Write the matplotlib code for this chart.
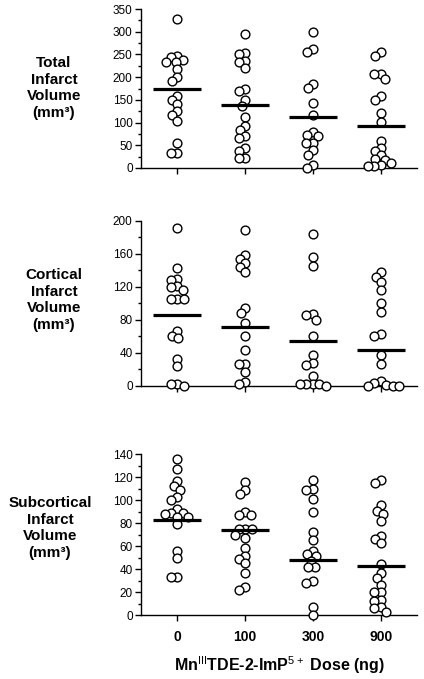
import matplotlib
matplotlib.use("Agg")
import matplotlib.pyplot as plt
import numpy as np

plt.rcParams['font.family'] = ['Liberation Sans', 'DejaVu Sans']
plt.rcParams['mathtext.fontset'] = 'custom'
plt.rcParams['mathtext.rm'] = 'Liberation Sans'
plt.rcParams['mathtext.bf'] = 'Liberation Sans:bold'

doses = ['0', '100', '300', '900']

total = [
    [328, 247, 244, 238, 234, 233, 219, 200, 191, 158, 150, 141, 125, 116, 103, 54, 32, 32],
    [294, 253, 251, 235, 233, 220, 174, 169, 150, 137, 112, 92, 84, 71, 66, 44, 37, 23, 22],
    [299, 263, 255, 186, 176, 143, 116, 79, 73, 71, 56, 54, 40, 29, 6, 0],
    [255, 247, 208, 206, 196, 158, 149, 121, 101, 60, 44, 37, 29, 20, 18, 11, 7, 5, 4],
]
cortical = [
    [191, 143, 129, 128, 121, 120, 116, 105, 105, 105, 66, 61, 58, 33, 24, 2, 2, 0],
    [189, 159, 154, 149, 144, 138, 94, 88, 76, 61, 43, 27, 27, 17, 5, 3],
    [184, 156, 145, 87, 86, 80, 61, 37, 28, 26, 12, 3, 2, 2, 2, 0],
    [138, 132, 126, 116, 101, 89, 63, 60, 37, 27, 6, 4, 1, 0, 0, 0],
]
subcortical = [
    [136, 127, 117, 112, 109, 103, 100, 92, 89, 89, 88, 85, 85, 79, 56, 50, 33, 33],
    [116, 109, 105, 90, 87, 87, 75, 75, 75, 70, 67, 58, 51, 49, 45, 37, 24, 22],
    [118, 110, 109, 101, 90, 72, 65, 56, 53, 51, 47, 42, 42, 30, 28, 7, 0],
    [118, 115, 96, 91, 88, 82, 69, 66, 63, 44, 37, 32, 26, 20, 20, 13, 12, 7, 6, 3],
]
# group means as drawn
total_mean = [174, 139, 112, 92]
cortical_mean = [86, 71, 54, 43.5]
subcortical_mean = [83, 74, 48, 43]

labels = ['Total\nInfarct\nVolume\n(mm\u00b3)',
          'Cortical\nInfarct\nVolume\n(mm\u00b3)',
          'Subcortical\nInfarct\nVolume\n(mm\u00b3)']

W, H = 424, 679
fig = plt.figure(figsize=(W / 100, H / 100), dpi=100)

# (bottom px, top px, ymax, major step, minor step, data, means, label, label x, label y)
panels = [
    (168, 9, 350, 50, 25, total, total_mean, labels[0], 54, 88),
    (386, 220.7, 200, 40, 20, cortical, cortical_mean, labels[1], 54, 300),
    (615, 454.3, 140, 20, 10, subcortical, subcortical_mean, labels[2], 50, 528),
]
left_px, right_px = 141, 417


def swarm(ax, xc, vals, mind=6.5):
    tr = ax.transData
    pts = tr.transform(np.column_stack([np.full(len(vals), xc), vals]))
    order = np.argsort(-np.asarray(vals, dtype=float), kind='stable')
    placed = []
    out = np.zeros_like(pts)
    for i in order:
        x0, y0 = pts[i]
        done = False
        for k in range(0, 80):
            for s in ([0] if k == 0 else [-1, 1]):
                cx = x0 + s * k * 0.5
                if all((cx - px) ** 2 + (y0 - py) ** 2 >= mind ** 2 for px, py in placed):
                    placed.append((cx, y0))
                    out[i] = (cx, y0)
                    done = True
                    break
            if done:
                break
    return tr.inverted().transform(out)[:, 0]


for pi, (bot, top, ymax, major, minor, data, means, lab, lx, ly) in enumerate(panels):
    ax = fig.add_axes([left_px / W, 1 - bot / H, (right_px - left_px) / W, (bot - top) / H])
    ax.set_xlim(-0.53, 3.53)
    ax.set_ylim(0, ymax)
    for sp in ['top', 'right']:
        ax.spines[sp].set_visible(False)
    ax.spines['left'].set_linewidth(1.0)
    ax.spines['bottom'].set_linewidth(1.0)
    ax.set_yticks(np.arange(0, ymax + 0.1, major))
    ax.set_yticks(np.arange(minor, ymax, major), minor=True)
    ax.tick_params(axis='y', which='major', length=4, width=1, labelsize=8.5, pad=2)
    ax.tick_params(axis='y', which='minor', length=2.5, width=1)
    ax.set_xticks(range(4))
    ax.tick_params(axis='x', length=4, width=1, labelsize=10, pad=7)
    if pi == 2:
        ax.set_xticklabels(doses, fontweight='bold')
        ax.set_xlabel(r'Mn$^{\mathrm{III}}$TDE-2-ImP$^{\mathrm{5+}}$ Dose (ng)',
                      fontweight='bold', fontsize=11.5, labelpad=7)
    else:
        ax.set_xticklabels([])
    for g, vals in enumerate(data):
        xs = swarm(ax, g, vals)
        ax.scatter(xs, vals, s=40, facecolors='white', edgecolors='black',
                   linewidths=1.0, zorder=3, clip_on=False)
        ax.plot([g - 0.35, g + 0.35], [means[g], means[g]], color='black',
                lw=2.3, zorder=4, solid_capstyle='butt')
    fig.text(lx / W, 1 - ly / H, lab, ha='center', va='center', fontsize=11,
             fontweight='bold', linespacing=1.25)

fig.savefig('out.png', dpi=100)
